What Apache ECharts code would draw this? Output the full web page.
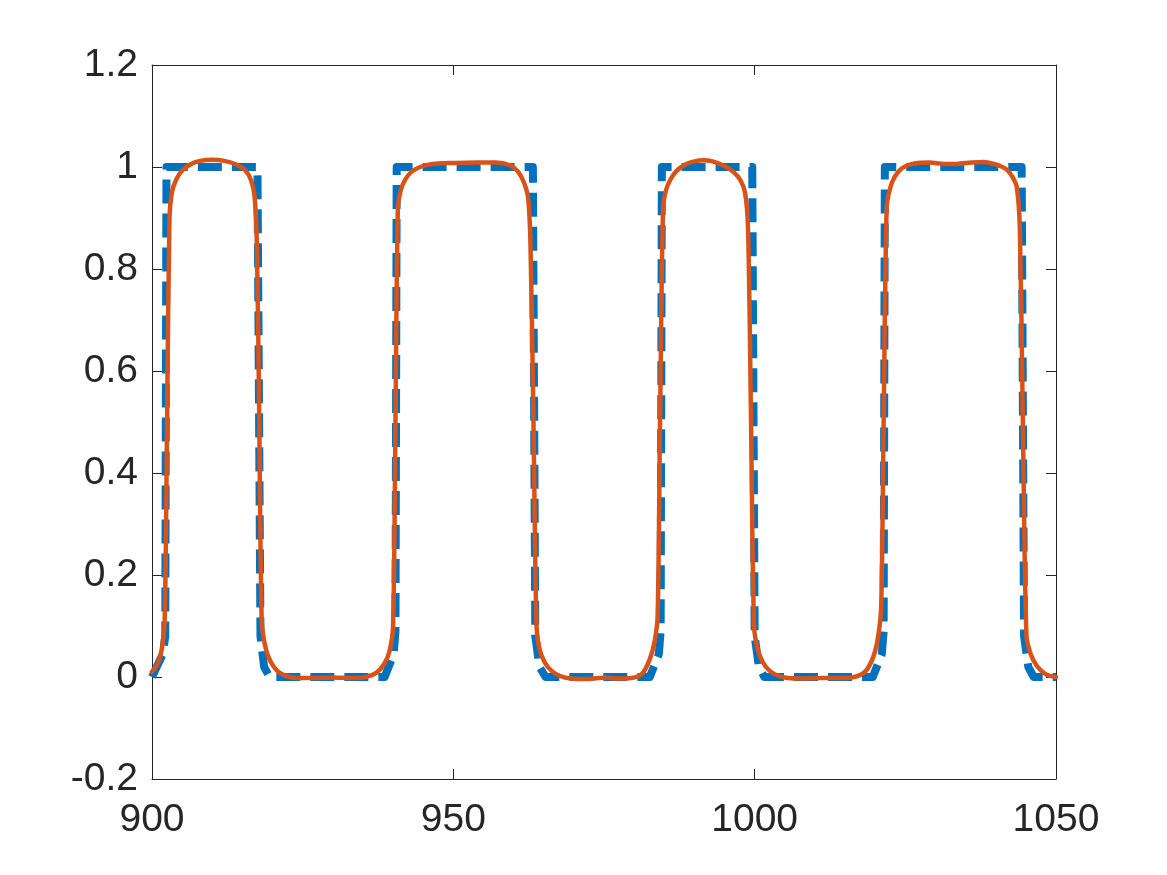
<!DOCTYPE html>
<html>
<head>
<meta charset="utf-8">
<script src="https://cdn.jsdelivr.net/npm/echarts@6/dist/echarts.min.js"></script>
<style>
html,body{margin:0;padding:0;background:#fff;}
#chart{width:1167px;height:875px;}
</style>
</head>
<body>
<div id="chart"></div>
<script>
// ---- data ----
const xTicks = [900, 950, 1000, 1050];
const yTicks = [-0.2, 0, 0.2, 0.4, 0.6, 0.8, 1, 1.2];

// reference signal (blue dashed)
const referenceSignal = [
  [900, 0], [900.3, 0.002], [901.8, 0.045], [902.2, 0.08], [902.4, 1],
  [917.5, 1], [918.0, 0.08], [918.6, 0.02], [919.5, 0],
  [938.6, 0], [940.1, 0.045], [940.4, 0.09], [940.6, 1],
  [963.2, 1], [963.6, 0.08], [964.3, 0.02], [965.3, 0],
  [982.6, 0], [984.1, 0.045], [984.4, 0.09], [984.6, 1],
  [999.6, 1], [1000.0, 0.08], [1000.7, 0.02], [1001.6, 0],
  [1019.6, 0], [1021.1, 0.045], [1021.4, 0.09], [1021.6, 1],
  [1044.3, 1], [1044.7, 0.08], [1045.4, 0.02], [1046.3, 0], [1050, 0]
];

// model output (orange solid)
const modelOutput = [
  [900, 0.01], [901, 0.027], [901.6, 0.053], [902.1, 0.11], [902.5, 0.5], [902.9, 0.9],
  [903.3, 0.95], [904, 0.975], [905, 0.993], [906.5, 1.006], [908, 1.012], [910, 1.014],
  [912, 1.012], [914, 1.005], [915.5, 0.993], [916.4, 0.975], [917.0, 0.945], [917.4, 0.85],
  [917.8, 0.5], [918.2, 0.11], [918.7, 0.065], [919.3, 0.04], [920.2, 0.02], [921.2, 0.008],
  [922.5, 0.001], [924, -0.002], [927, -0.002], [930, -0.001], [933, -0.002], [935.5, 0.0],
  [937.2, 0.008], [938.5, 0.025], [939.4, 0.05], [940.0, 0.1], [940.4, 0.5], [940.8, 0.92],
  [941.3, 0.955], [942, 0.975], [943, 0.99], [944.5, 1.0], [946.5, 1.006], [950, 1.008],
  [954, 1.009], [957, 1.009], [959.5, 1.003], [960.8, 0.99], [961.7, 0.97], [962.4, 0.94],
  [962.8, 0.85], [963.3, 0.5], [963.8, 0.1], [964.3, 0.055], [965.2, 0.028], [966.3, 0.012],
  [967.7, 0.002], [969.5, -0.003], [972, -0.004], [974, -0.002], [975.5, -0.001], [977, -0.003],
  [979.5, -0.002],
  [981.3, 0.006], [982.6, 0.035], [983.4, 0.07], [983.9, 0.12], [984.3, 0.5], [984.8, 0.92],
  [985.3, 0.955], [986, 0.975], [987, 0.992], [988.5, 1.005], [990, 1.011], [991.5, 1.013],
  [993, 1.011], [995, 1.002], [996.5, 0.99], [997.6, 0.975], [998.4, 0.95], [998.9, 0.88],
  [999.4, 0.5], [999.9, 0.1], [1000.5, 0.055], [1001.4, 0.028], [1002.5, 0.012], [1003.8, 0.003],
  [1005.5, -0.002], [1008, -0.003], [1011, -0.002], [1014, -0.002], [1016.5, 0.0],
  [1018.3, 0.01], [1019.7, 0.04], [1020.5, 0.08], [1021.0, 0.14], [1021.4, 0.5], [1021.9, 0.92],
  [1022.4, 0.955], [1023.2, 0.98], [1024.5, 0.998], [1026.5, 1.007], [1029, 1.009], [1031.5, 1.006],
  [1033.5, 1.006], [1036, 1.009], [1038, 1.01], [1040, 1.005], [1041.8, 0.995], [1042.8, 0.98],
  [1043.5, 0.96], [1044.0, 0.88], [1044.5, 0.5], [1045.1, 0.08], [1045.8, 0.045], [1046.8, 0.022],
  [1048, 0.008], [1049, 0.002], [1050, 0.0]
];

// ---- chart ----
const axisColor = '#262626';
const fontFamily = '"Liberation Sans", Helvetica, Arial, sans-serif';
const xMin = xTicks[0], xMax = xTicks[xTicks.length - 1], xStep = xTicks[1] - xTicks[0];
const yMin = yTicks[0], yMax = yTicks[yTicks.length - 1];
const yStep = Math.round((yTicks[1] - yTicks[0]) * 1000) / 1000;

function axisBase(show) {
  return {
    axisLine: { show: true, onZero: false, lineStyle: { color: axisColor, width: 1 } },
    axisTick: { show: true, inside: true, length: 10, lineStyle: { color: axisColor, width: 1 } },
    splitLine: { show: false },
    axisLabel: { show: show, color: axisColor, fontSize: 39, fontFamily: fontFamily }
  };
}

const chart = echarts.init(document.getElementById('chart'), null, { renderer: 'canvas' });
chart.setOption({
  backgroundColor: '#ffffff',
  animation: false,
  grid: { left: 152, right: 111, top: 65, bottom: 96, containLabel: false },
  xAxis: [
    Object.assign(axisBase(true), { type: 'value', position: 'bottom', min: xMin, max: xMax, interval: xStep,
      axisLabel: Object.assign(axisBase(true).axisLabel, { margin: 22,
        formatter: function (v) { return String(Math.round(v)); } }) }),
    Object.assign(axisBase(false), { type: 'value', position: 'top', min: xMin, max: xMax, interval: xStep })
  ],
  yAxis: [
    Object.assign(axisBase(true), { type: 'value', position: 'left', min: yMin, max: yMax, interval: yStep,
      axisLabel: Object.assign(axisBase(true).axisLabel, { margin: 14,
        formatter: function (v) { return String(Math.round(v * 10) / 10); } }) }),
    Object.assign(axisBase(false), { type: 'value', position: 'right', min: yMin, max: yMax, interval: yStep })
  ],
  series: [
    {
      type: 'line', name: 'reference', data: referenceSignal, showSymbol: false, symbol: 'none',
      lineStyle: { color: '#0072BD', width: 8, type: [24, 10], cap: 'butt', join: 'round' },
      z: 2
    },
    {
      type: 'line', name: 'output', data: modelOutput, showSymbol: false, symbol: 'none',
      smooth: 0.3,
      lineStyle: { color: '#D95319', width: 4.5, join: 'round', cap: 'round' },
      z: 3
    }
  ]
});
</script>
</body>
</html>
